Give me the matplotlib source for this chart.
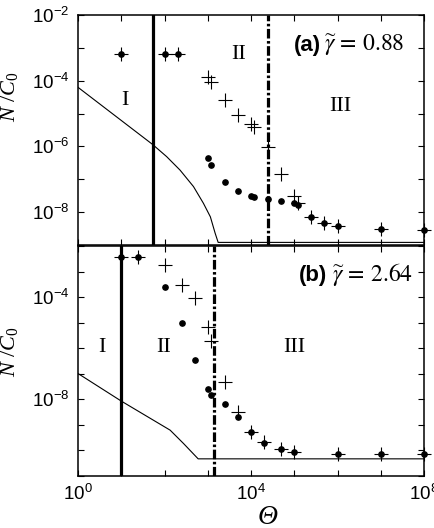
import numpy as np
import matplotlib
matplotlib.use('Agg')
import matplotlib.pyplot as plt
from matplotlib.ticker import NullLocator

plt.rcParams['font.family'] = ['Liberation Sans', 'DejaVu Sans']
plt.rcParams['mathtext.fontset'] = 'custom'
plt.rcParams['mathtext.rm'] = 'Liberation Serif'
plt.rcParams['mathtext.it'] = 'Liberation Serif:italic'
plt.rcParams['mathtext.bf'] = 'Liberation Sans:bold'

# ---- panel (a) data ----
theta_a = [10, 100, 200, 1e3, 1.2e3, 2.5e3, 5e3, 1e4, 1.2e4, 2.5e4, 5e4,
           1e5, 1.2e5, 2.5e5, 5e5, 1e6, 1e7, 1e8]
dots_a = [6.3e-4, 6.3e-4, 6.3e-4, 4.4e-7, 2.8e-7, 8.5e-8, 4.4e-8, 3.2e-8, 2.9e-8,
          2.5e-8, 2.2e-8, 1.95e-8, 1.6e-8, 7.2e-9, 4.8e-9, 3.8e-9, 3.0e-9, 2.9e-9]
plus_a = [6.3e-4, 6.3e-4, 6.3e-4, 1.3e-4, 9.3e-5, 2.6e-5, 9.1e-6, 4.8e-6, 4.0e-6,
          9.8e-7, 1.45e-7, 3.0e-8, 1.95e-8, 7.2e-9, 4.8e-9, 3.8e-9, 3.0e-9, 2.9e-9]
curve_theta_a = [1, 53, 112, 229, 468, 794, 1150, 1480, 1740, 1e8]
curve_n_a = [6.3e-5, 1.15e-6, 4.9e-7, 1.9e-7, 6.0e-8, 1.86e-8, 7.2e-9, 2.3e-9, 1.2e-9, 1.2e-9]
solid_a = 53
dashdot_a = 2.45e4

# ---- panel (b) data ----
theta_b = [10, 25, 100, 250, 500, 1e3, 1.2e3, 2.5e3, 5e3, 1e4, 2e4, 5e4, 1e5, 1e6, 1e7, 1e8]
dots_b = [3.6e-3, 3.6e-3, 2.5e-4, 9.8e-6, 3.4e-7, 2.45e-8, 1.5e-8, 6.2e-9, 2.0e-9,
          4.9e-10, 1.95e-10, 1.07e-10, 8.5e-11, 7.2e-11, 7.2e-11, 7.2e-11]
plus_b = [3.6e-3, 3.6e-3, 1.8e-3, 3.0e-4, 8.9e-5, 6.5e-6, 1.95e-6, 4.8e-8, 3.2e-9,
          5.1e-10, 2.0e-10, 1.07e-10, 8.5e-11, 7.2e-11, 7.2e-11, 7.2e-11]
curve_theta_b = [1, 10, 47, 135, 275, 600, 1e8]
curve_n_b = [1.0e-7, 8.3e-9, 1.74e-9, 6.0e-10, 1.8e-10, 4.5e-11, 4.5e-11]
solid_b = 10
dashdot_b = 1.38e3

fig = plt.figure(figsize=(4.34, 5.28), dpi=100)
ax1 = fig.add_axes([78 / 434, 1 - 245 / 528, 346 / 434, 230 / 528])
ax2 = fig.add_axes([78 / 434, 1 - 475.5 / 528, 346 / 434, 229.5 / 528])


def draw(ax, th, dots, plus, cth, cn, xs, xd):
    ax.plot(cth, cn, color='black', lw=0.8)
    ax.axvline(xs, color='black', lw=2.3)
    ax.axvline(xd, color='black', lw=2.3, dashes=(3, 0.8, 0.8, 0.8))
    ax.plot(th, plus, ls='none', marker='+', ms=10.5, mew=0.8, color='black', clip_on=False)
    ax.plot(th, dots, ls='none', marker='o', ms=3.8, color='black', clip_on=False)
    ax.set_xscale('log')
    ax.set_yscale('log')
    ax.set_xlim(1, 1e8)
    ax.set_xticks([10.0 ** i for i in range(9)])
    ax.xaxis.set_minor_locator(NullLocator())
    ax.yaxis.set_minor_locator(NullLocator())
    ax.tick_params(which='both', direction='in', top=True, right=True,
                   length=4, width=0.8, labelsize=13.5, pad=6)
    for s in ax.spines.values():
        s.set_linewidth(1.1)


draw(ax1, theta_a, dots_a, plus_a, curve_theta_a, curve_n_a, solid_a, dashdot_a)
draw(ax2, theta_b, dots_b, plus_b, curve_theta_b, curve_n_b, solid_b, dashdot_b)

ax1.set_ylim(1e-9, 1e-2)
ax1.set_yticks([10.0 ** i for i in range(-9, -1)])
ax1.set_yticklabels(['' if i % 2 else r'$\mathdefault{10^{%d}}$' % i for i in range(-9, -1)])
ax1.set_xticklabels([''] * 9)

ax2.set_ylim(1e-11, 1e-2)
ax2.set_yticks([10.0 ** i for i in range(-11, -1)])
ax2.set_yticklabels([r'$\mathdefault{10^{%d}}$' % i if i in (-4, -8) else '' for i in range(-11, -1)])
ax2.set_xticklabels([r'$\mathdefault{10^{%d}}$' % i if i in (0, 4, 8) else '' for i in range(9)])

for ax, yc in ((ax1, 0.643), (ax2, 0.538)):
    ax.set_ylabel(r'$N\ /C_0$', fontsize=16)
    ax.yaxis.set_label_coords(-0.168, yc)

fig.text(268 / 434, 1 - 517 / 528, 'Θ', family='Liberation Serif', style='italic',
         fontsize=20, ha='center', va='center')

roman = dict(fontsize=16, family='Liberation Serif', ha='center', va='center')
ax1.text(0.136, 0.630, 'I', transform=ax1.transAxes, **roman)
ax1.text(0.463, 0.830, 'II', transform=ax1.transAxes, **roman)
ax1.text(0.757, 0.604, 'III', transform=ax1.transAxes, **roman)
ax2.text(0.069, 0.558, 'I', transform=ax2.transAxes, **roman)
ax2.text(0.248, 0.558, 'II', transform=ax2.transAxes, **roman)
ax2.text(0.626, 0.558, 'III', transform=ax2.transAxes, **roman)

for ax, tag, val, xr, xg, yb in ((ax1, '(a)', '0.88', 0.702, 0.711, 0.843),
                                 (ax2, '(b)', '2.64', 0.720, 0.733, 0.847)):
    ax.text(xr, yb, tag, transform=ax.transAxes, fontsize=16, weight='bold',
            ha='right', va='baseline')
    ax.text(xg, yb, r'$\widetilde{\gamma}\,=\,%s$' % val, transform=ax.transAxes,
            fontsize=17, math_fontfamily='stix', ha='left', va='baseline')

fig.savefig('out.png', dpi=100)
